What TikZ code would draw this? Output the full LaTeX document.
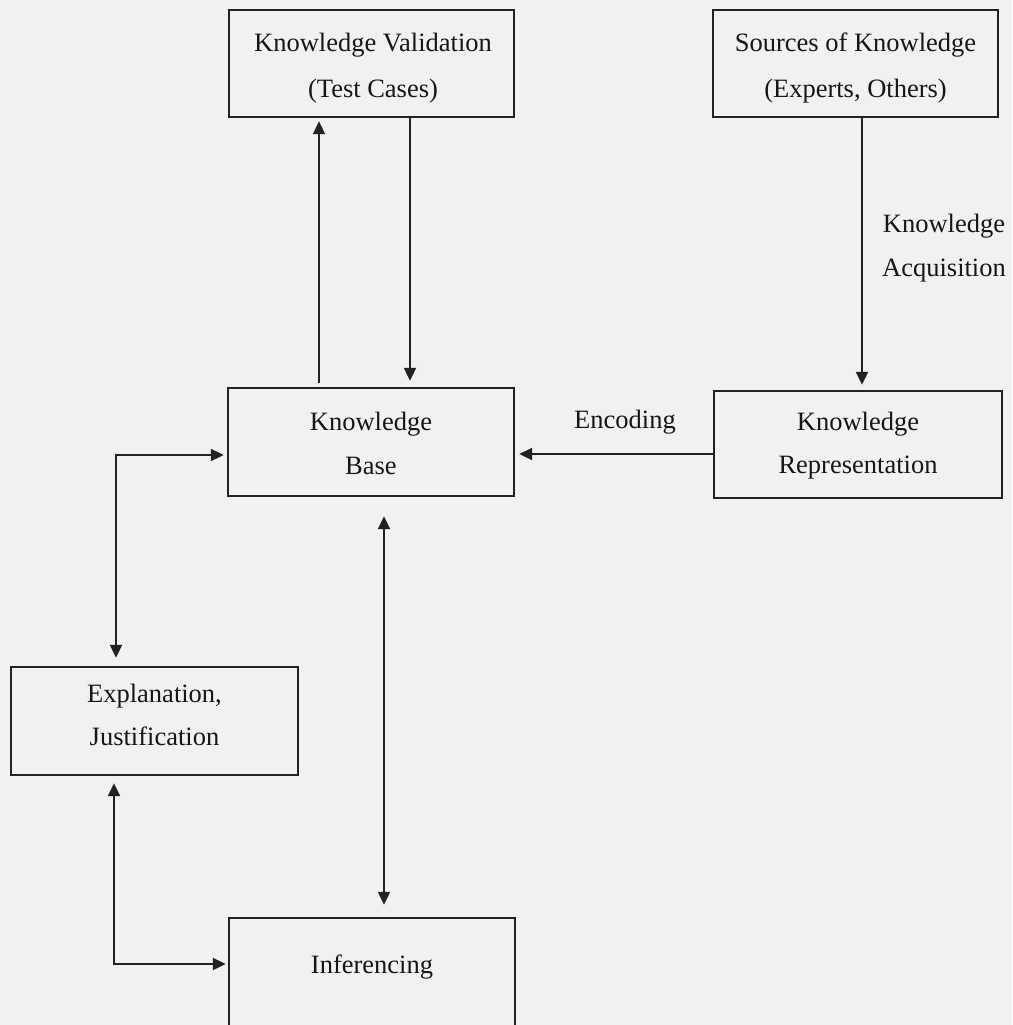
\documentclass[tikz,border=0pt]{standalone}
\usepackage{fontspec}
\setmainfont{Liberation Serif}
\usetikzlibrary{arrows.meta}
\definecolor{paper}{HTML}{F1F1F1}
\definecolor{ink}{HTML}{222222}
\definecolor{textink}{HTML}{161616}
\begin{document}
\begin{tikzpicture}[x=1pt,y=-1pt,
  box/.style={draw=ink,line width=2.4pt,fill=none,inner sep=0pt},
  txt/.style={inner sep=0pt,anchor=base,text=textink,font=\fontsize{26.5}{44}\selectfont},
  tip/.style={},
  arr/.style={draw=ink,line width=2pt,-{Triangle[length=13pt,width=12pt]}},
  arrboth/.style={draw=ink,line width=2pt,{Triangle[length=13pt,width=12pt]}-{Triangle[length=13pt,width=12pt]}}]
  % page
  \fill[paper] (0,0) rectangle (1012,1025);
  \useasboundingbox (0,0) rectangle (1012,1025);
  \clip (0,0) rectangle (1012,1025);

  % boxes
  \node[box,minimum width=285pt,minimum height=107pt] (kv) at (371.5,63.5) {};
  \node[box,minimum width=285pt,minimum height=107pt] (sk) at (855.5,63.5) {};
  \node[box,minimum width=286pt,minimum height=108pt] (kb) at (371,442) {};
  \node[box,minimum width=288pt,minimum height=107pt] (kr) at (858,444.5) {};
  \node[box,minimum width=287pt,minimum height=108pt] (ex) at (154.5,721) {};
  \node[box,minimum width=286pt,minimum height=108pt] (in) at (372,972) {};

  % box texts
  \node[txt] (kv1) at (373,52) {Knowledge Validation};
  \node[txt] (kv2) at (373,97) {(Test Cases)};
  \node[txt] (sk1) at (855.5,52) {Sources of Knowledge};
  \node[txt] (sk2) at (855.5,97.5) {(Experts, Others)};
  \node[txt] (kb1) at (371,430) {Knowledge};
  \node[txt] (kb2) at (371,474) {Base};
  \node[txt] (kr1) at (858,430) {Knowledge};
  \node[txt] (kr2) at (858,473) {Representation};
  \node[txt] (ex1) at (154.5,702) {Explanation,};
  \node[txt] (ex2) at (154.5,745) {Justification};
  \node[txt] (in1) at (372,973) {Inferencing};

  % connector labels
  \node[txt] (enc) at (625,428) {Encoding};
  \node[txt] (acq1) at (944,232) {Knowledge};
  \node[txt] (acq2) at (944,276) {Acquisition};

  % helper coordinates for connector positions
  \coordinate (upx) at (319,0);
  \coordinate (downx) at (410,0);
  \coordinate (acqx) at (862,0);
  \coordinate (ency) at (0,454);
  \coordinate (leftx) at (116,455);
  \coordinate (infx) at (384,0);
  \coordinate (lowx) at (114,964);

  % validation loop
  \draw[arr,shorten <=4pt,shorten >=3pt] (kb.north -| upx) -- (kv.south -| upx);
  \draw[arr,shorten >=6pt] (kv.south -| downx) -- (kb.north -| downx);
  % acquisition and encoding
  \draw[arr,shorten >=5pt] (sk.south -| acqx) -- (kr.north -| acqx);
  \draw[arr,shorten >=4pt] (kr.west |- ency) -- (kb.east |- ency);
  % knowledge base <-> explanation
  \draw[arrboth,shorten <=3pt,shorten >=8pt] (kb.west |- leftx) -| (ex.north -| leftx);
  % knowledge base <-> inferencing
  \draw[arrboth,shorten <=19pt,shorten >=12pt] (kb.south -| infx) -- (in.north -| infx);
  % explanation <-> inferencing
  \draw[arrboth,shorten <=7pt,shorten >=2pt] (ex.south -| lowx) |- (in.west |- lowx);
\end{tikzpicture}
\end{document}
